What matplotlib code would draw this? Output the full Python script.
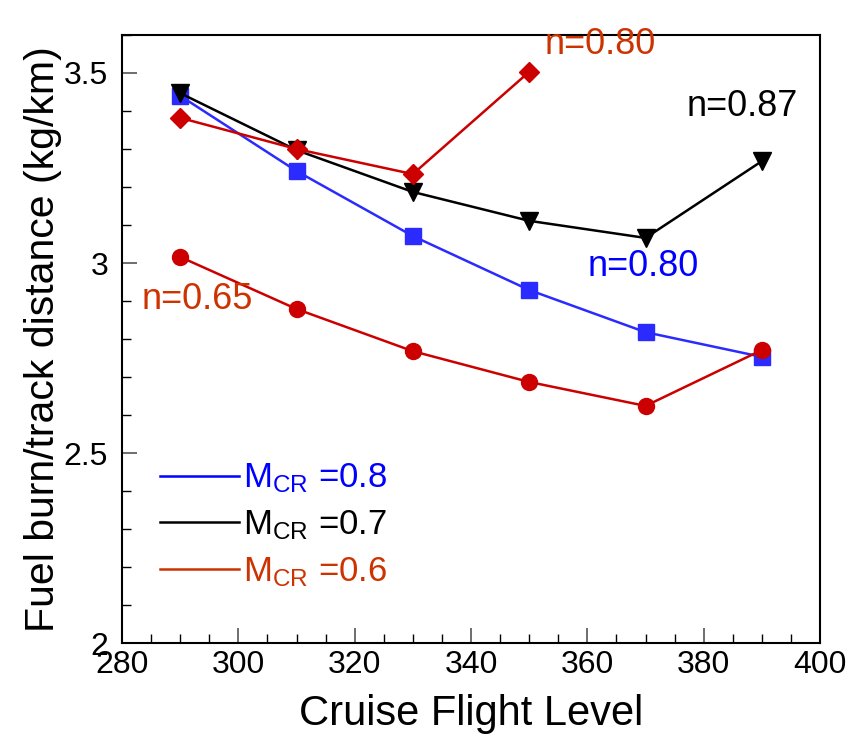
import matplotlib
matplotlib.use('Agg')
import matplotlib.pyplot as plt
from matplotlib.lines import Line2D
from matplotlib.ticker import MultipleLocator

plt.rcParams['font.family'] = ['Liberation Sans', 'DejaVu Sans']
plt.rcParams['mathtext.default'] = 'regular'

# Эшелоны полёта
levels = [290, 310, 330, 350, 370, 390]
levels_n080 = [290, 310, 330, 350]

# Расход топлива на км пути (кг/км)
fuel_m08 = [3.44, 3.242, 3.071, 2.929, 2.818, 2.753]
fuel_m07 = [3.447, 3.297, 3.187, 3.111, 3.066, 3.268]
fuel_m06_n080 = [3.382, 3.300, 3.234, 3.503]
fuel_m06_n065 = [3.016, 2.879, 2.768, 2.687, 2.624, 2.771]

blue = '#2b2bff'
red = '#cc0000'
red_txt = '#cc3300'

fig = plt.figure(figsize=(8.61, 7.46), dpi=100)
ax = fig.add_axes([0.1417, 0.138, 0.8107, 0.8151])

ax.plot(levels, fuel_m08, 's-', color=blue, linewidth=1.8, markersize=11)
ax.plot(levels, fuel_m07, 'v-', color='black', linewidth=1.8, markersize=13)
ax.plot(levels_n080, fuel_m06_n080, 'D-', color=red, linewidth=1.8, markersize=10)
ax.plot(levels, fuel_m06_n065, 'o-', color=red, linewidth=1.8, markersize=11.5)

# Подписи кривых
ax.text(352.7, 3.576, 'n=0.80', color=red_txt, fontsize=26, va='center', clip_on=False)
ax.text(377.0, 3.413, 'n=0.87', color='black', fontsize=26, va='center')
ax.text(360.1, 2.992, 'n=0.80', color='#0000ff', fontsize=26, va='center')
ax.text(283.4, 2.903, 'n=0.65', color=red_txt, fontsize=26, va='center')

# Легенда
handles = [Line2D([], [], color='#0000ff', linewidth=1.8),
           Line2D([], [], color='black', linewidth=1.8),
           Line2D([], [], color=red_txt, linewidth=1.8)]
labels = ['$M_{CR}$ =0.8', '$M_{CR}$ =0.7', '$M_{CR}$ =0.6']
leg = ax.legend(handles, labels, loc='upper left', bbox_to_anchor=(0.034, 0.321),
                frameon=False, fontsize=25, handlelength=2.3, handletextpad=0.1,
                labelspacing=0.37, borderaxespad=0)
for t, c in zip(leg.get_texts(), ['#0000ff', 'black', red_txt]):
    t.set_color(c)

ax.set_xlim(280, 400)
ax.set_ylim(2, 3.6)
ax.xaxis.set_major_locator(MultipleLocator(20))
ax.xaxis.set_minor_locator(MultipleLocator(5))
ax.yaxis.set_major_locator(MultipleLocator(0.5))
ax.yaxis.set_minor_locator(MultipleLocator(0.1))
ax.yaxis.set_major_formatter(plt.FuncFormatter(lambda v, p: f'{v:g}'))

ax.tick_params(which='both', direction='in', top=False, right=False, labelsize=23)
ax.tick_params(which='major', length=11, width=1.2, color='#555555')
ax.tick_params(which='minor', length=6.5, width=1.0, color='black')
ax.tick_params(axis='y', which='major', pad=10)
ax.tick_params(axis='x', which='major', pad=5)
for s in ax.spines.values():
    s.set_linewidth(1.5)

ax.set_xlabel('Cruise Flight Level', fontsize=30, labelpad=10)
ax.set_ylabel('Fuel burn/track distance (kg/km)', fontsize=29.5, labelpad=1)

fig.savefig('out.png', dpi=100)
